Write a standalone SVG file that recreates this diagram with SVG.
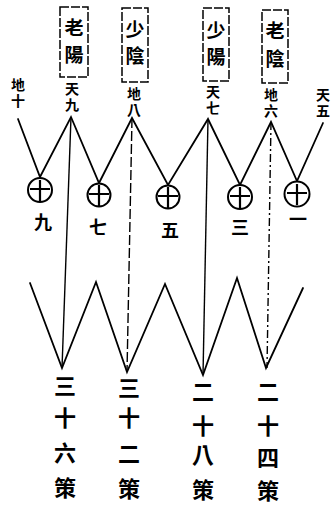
<svg xmlns="http://www.w3.org/2000/svg" width="332" height="510" viewBox="0 0 332 510">
<style>
text{font-family:"Noto Sans CJK TC","Noto Sans CJK SC",sans-serif;font-weight:bold;fill:#000;text-anchor:middle;dominant-baseline:central}
.bx{font-size:19px}
.lb{font-size:14px;writing-mode:vertical-rl;letter-spacing:2px}
.nm{font-size:18px}
.bt{font-size:22px}
.box{fill:none;stroke:#000;stroke-width:1.5;stroke-dasharray:9 2}
.ln{fill:none;stroke:#000;stroke-width:1.8;stroke-linecap:round}
.thin{fill:none;stroke:#000;stroke-width:1.4}
.dd{fill:none;stroke:#000;stroke-width:1.4;stroke-dasharray:8 3 2 3}
.ds{fill:none;stroke:#000;stroke-width:1.4;stroke-dasharray:10 3}
.cir{fill:#fff;stroke:#000;stroke-width:2}
.crs{stroke:#000;stroke-width:2.2}
</style>
<rect width="332" height="510" fill="#fff"/>
<g id="connectors">
<polyline class="ln" points="18,119 40,177 71,117 99,183 132,118 168,185 208,119 240,185 271,122 297,181 323,123"/>
<line class="thin" x1="71" y1="117" x2="62" y2="368"/>
<line class="ds" x1="132" y1="118" x2="127" y2="372"/>
<line class="thin" x1="208" y1="119" x2="203" y2="375"/>
<line class="dd" x1="271" y1="122" x2="267" y2="368"/>
<polyline class="ln" points="30,283 62,368 96,282 127,372 165,284 203,375 237,278 266,368 303,288"/>
</g>
<g id="box-laoyang"><rect class="box" x="60" y="7" width="28" height="70"/><text class="bx" x="74" y="26">老</text><text class="bx" x="74" y="53">陽</text></g>
<g id="box-shaoyin"><rect class="box" x="122" y="8" width="26" height="74"/><text class="bx" x="135" y="28">少</text><text class="bx" x="135" y="54">陰</text></g>
<g id="box-shaoyang"><rect class="box" x="203" y="8" width="26" height="73"/><text class="bx" x="216" y="29">少</text><text class="bx" x="216" y="55">陽</text></g>
<g id="box-laoyin"><rect class="box" x="262" y="10" width="26" height="73"/><text class="bx" x="275" y="29">老</text><text class="bx" x="275" y="57">陰</text></g>
<g id="top-dishi"><text class="lb" x="18" y="94">地十</text></g>
<g id="top-tianjiu"><text class="lb" x="72" y="98">天九</text></g>
<g id="top-diba"><text class="lb" x="134" y="103">地八</text></g>
<g id="top-tianqi"><text class="lb" x="213" y="101">天七</text></g>
<g id="top-diliu"><text class="lb" x="271" y="104">地六</text></g>
<g id="top-tianwu"><text class="lb" x="323" y="104">天五</text></g>
<g id="c-jiu"><circle class="cir" cx="40" cy="190" r="12"/><path class="crs" d="M30,189H50M40,180V201"/><text class="nm" x="43" y="221">九</text></g>
<g id="c-qi"><circle class="cir" cx="99" cy="195" r="11.5"/><path class="crs" d="M89,194H109M99,185V206"/><text class="nm" x="98" y="226">七</text></g>
<g id="c-wu"><circle class="cir" cx="168" cy="197" r="11.5"/><path class="crs" d="M158,196H178M168,187V208"/><text class="nm" x="170" y="229">五</text></g>
<g id="c-san"><circle class="cir" cx="240" cy="197" r="12"/><path class="crs" d="M230,196H250M240,187V208"/><text class="nm" x="240" y="226">三</text></g>
<g id="c-yi"><circle class="cir" cx="297" cy="194" r="12.5"/><path class="crs" d="M287,193H307M297,184V205"/><text class="nm" x="298" y="218">一</text></g>
<g id="b-36"><text class="bt" x="65" y="384">三</text><text class="bt" x="65" y="416">十</text><text class="bt" x="65" y="451">六</text><text class="bt" x="65" y="486">策</text></g>
<g id="b-32"><text class="bt" x="129" y="386">三</text><text class="bt" x="129" y="416">十</text><text class="bt" x="129" y="452">二</text><text class="bt" x="129" y="487">策</text></g>
<g id="b-28"><text class="bt" x="203" y="390">二</text><text class="bt" x="203" y="424">十</text><text class="bt" x="203" y="453">八</text><text class="bt" x="203" y="488">策</text></g>
<g id="b-24"><text class="bt" x="268" y="390">二</text><text class="bt" x="268" y="424">十</text><text class="bt" x="268" y="456">四</text><text class="bt" x="268" y="489">策</text></g>
</svg>
